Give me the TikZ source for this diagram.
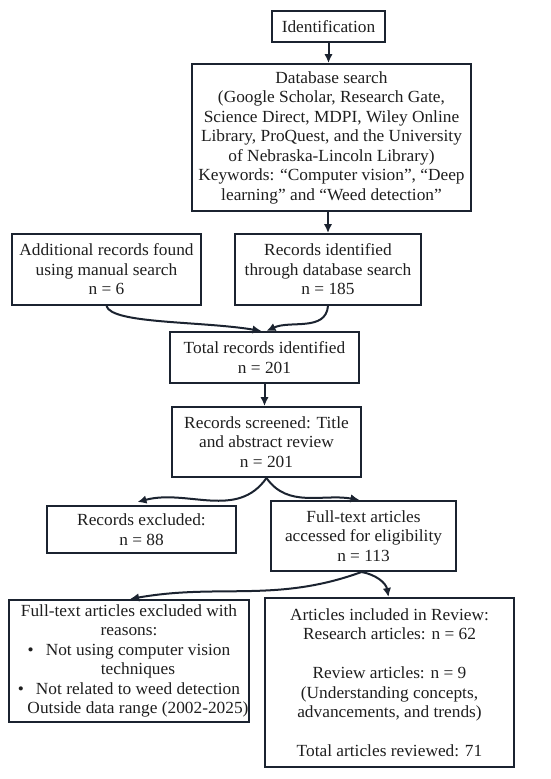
\documentclass[tikz,border=0pt]{standalone}
\usepackage{fontspec}
\setmainfont{Liberation Serif}[FakeStretch=1.02]
\usetikzlibrary{arrows.meta,calc}
\definecolor{ink}{HTML}{1B2330}
\definecolor{txt}{HTML}{1E1E1E}
\tikzset{
  box/.style={draw=ink, line width=2pt, align=center, inner sep=0pt, text=txt,
    font=\fontsize{17}{19.5}\selectfont},
  arr/.style={draw=ink, line width=2pt, -{Latex[length=9pt,width=8.5pt]}}
}
\begin{document}
\begin{tikzpicture}[x=1pt,y=-1pt]
\useasboundingbox (0,0) rectangle (550,779);
\node[box, minimum width=113pt, minimum height=31pt] (ident) at (328.5,26.5) {Identification};
\node[box, minimum width=279pt, minimum height=147pt] (db) at (331.5,137.5)
  {Database search\\(Google Scholar, Research Gate,\\Science Direct, MDPI, Wiley Online\\Library, ProQuest, and the University\\of Nebraska-Lincoln Library)\\Keywords: “Computer vision”, “Deep\\learning” and “Weed detection”};
\node[box, minimum width=189pt, minimum height=71pt] (add) at (106.5,269.5)
  {Additional records found\\using manual search\\n = 6};
\node[box, minimum width=186pt, minimum height=71pt] (recid) at (328,269.5)
  {Records identified\\through database search\\n = 185};
\node[box, minimum width=189pt, minimum height=51pt] (total) at (264.5,357.5)
  {Total records identified\\n = 201};
\node[box, minimum width=189pt, minimum height=70pt] (screen) at (266.5,442)
  {Records screened: Title\\and abstract review\\n = 201};
\node[box, minimum width=189pt, minimum height=47pt] (excl) at (141.5,529.5)
  {Records excluded:\\n = 88};
\node[box, minimum width=185pt, minimum height=70pt] (ft) at (363.5,536)
  {Full-text articles\\accessed for eligibility\\n = 113};
\node[box, minimum width=232pt, minimum height=122pt] (ftex) at (129,661)
  {Full-text articles excluded with\\reasons:\\
   \hspace*{18pt}\llap{•\hspace{12pt}}Not using computer vision\\
   \hspace*{18pt}techniques\\
   \hspace*{18pt}\llap{•\hspace{12pt}}Not related to weed detection\\
   \hspace*{18pt}Outside data range (2002-2025)};
\node[box, minimum width=249pt, minimum height=169pt] (incl) at (389.5,682.5)
  {Articles included in Review:\\Research articles: n = 62\\\mbox{}\\Review articles: n = 9\\(Understanding concepts,\\advancements, and trends)\\\mbox{}\\Total articles reviewed: 71};

\draw[arr] (ident.south) -- (ident.south |- db.north);
\draw[arr] (recid.north |- db.south) -- (recid.north);
\draw[arr] (add.south) .. controls +(5,18) and +(-60,-10) .. ($(total.north)+(-3,0)$);
\draw[arr] (recid.south) to[out=-95,in=25] ($(total.north)+(2,0)$);
\draw[arr] (total.south) -- (total.south |- screen.north);
\draw[arr] (screen.south) to[out=-125,in=15] ($(excl.north)+(-4,-3)$);
\draw[arr] (screen.south) to[out=-55,in=170] ($(ft.north)+(-4,0)$);
\draw[arr] ($(ft.south)+(-2,0)$) to[out=-160,in=10] ($(ftex.north)+(1,0)$);
\draw[arr] ($(ft.south)+(-2,0)$) to[out=-10,in=100] ($(incl.north)+(-1,0)$);
\end{tikzpicture}
\end{document}
